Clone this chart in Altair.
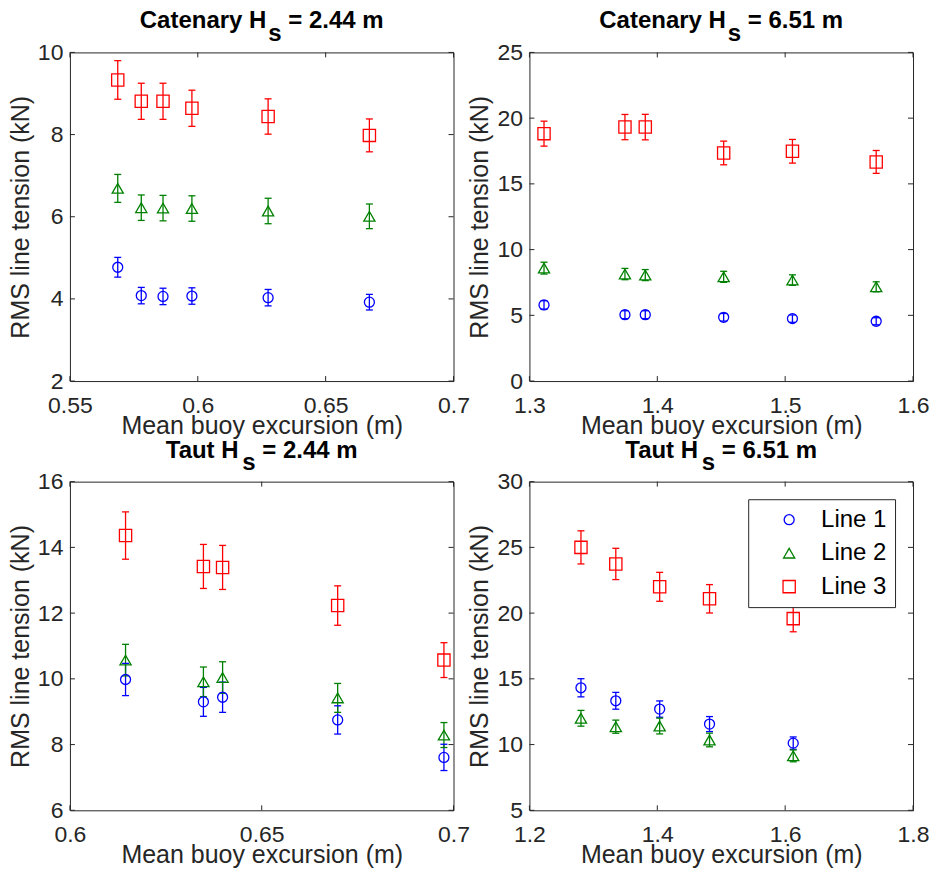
import altair as alt
import pandas as pd

SERIES = ["Line 1", "Line 2", "Line 3"]
COLORS = ["#0000ff", "#008000", "#ff0000"]
SHAPES = ["circle", "triangle-up", "square"]
SIZES = [100, 150, 110]

# ---- Catenary Hs = 2.44 m ----
cat244_x = [0.5687, 0.5779, 0.5864, 0.5977, 0.6275, 0.6671]
cat244_l1 = [4.77, 4.08, 4.06, 4.07, 4.03, 3.92]
cat244_e1 = [0.24, 0.20, 0.20, 0.20, 0.20, 0.19]
cat244_l2 = [6.69, 6.22, 6.21, 6.20, 6.14, 6.01]
cat244_e2 = [0.34, 0.31, 0.31, 0.31, 0.31, 0.30]
cat244_l3 = [9.33, 8.81, 8.81, 8.64, 8.44, 7.98]
cat244_e3 = [0.47, 0.44, 0.44, 0.44, 0.43, 0.40]

# ---- Catenary Hs = 6.51 m ----
cat651_x = [1.3114, 1.3747, 1.3906, 1.4519, 1.5057, 1.5712]
cat651_l1 = [5.79, 5.05, 5.05, 4.85, 4.75, 4.55]
cat651_e1 = [0.32, 0.30, 0.30, 0.29, 0.28, 0.27]
cat651_l2 = [8.59, 8.14, 8.06, 7.93, 7.68, 7.17]
cat651_e2 = [0.45, 0.43, 0.42, 0.42, 0.40, 0.38]
cat651_l3 = [18.82, 19.32, 19.32, 17.35, 17.48, 16.67]
cat651_e3 = [0.95, 0.96, 0.97, 0.90, 0.90, 0.87]

# ---- Taut Hs = 2.44 m ----
taut244_x = [0.6145, 0.6348, 0.6398, 0.6698, 0.6975]
taut244_l1 = [9.98, 9.30, 9.44, 8.75, 7.61]
taut244_e1 = [0.49, 0.44, 0.46, 0.43, 0.40]
taut244_l2 = [10.57, 9.91, 10.04, 9.42, 8.29]
taut244_e2 = [0.48, 0.45, 0.48, 0.44, 0.38]
taut244_l3 = [14.36, 13.42, 13.39, 12.23, 10.57]
taut244_e3 = [0.72, 0.67, 0.67, 0.60, 0.53]

# ---- Taut Hs = 6.51 m ----
taut651_x = [1.2806, 1.3351, 1.4037, 1.4817, 1.6126]
taut651_l1 = [14.32, 13.33, 12.70, 11.56, 10.11]
taut651_e1 = [0.69, 0.64, 0.62, 0.57, 0.47]
taut651_l2 = [12.00, 11.36, 11.41, 10.35, 9.14]
taut651_e2 = [0.60, 0.50, 0.60, 0.52, 0.45]
taut651_l3 = [25.00, 23.74, 22.00, 21.09, 19.58]
taut651_e3 = [1.26, 1.19, 1.10, 1.08, 1.00]

# axis ticks
cat244_xticks = [0.55, 0.6, 0.65, 0.7]
cat244_yticks = [2, 4, 6, 8, 10]
cat651_xticks = [1.3, 1.4, 1.5, 1.6]
cat651_yticks = [0, 5, 10, 15, 20, 25]
taut244_xticks = [0.6, 0.65, 0.7]
taut244_yticks = [6, 8, 10, 12, 14, 16]
taut651_xticks = [1.2, 1.4, 1.6, 1.8]
taut651_yticks = [5, 10, 15, 20, 25, 30]

FONT = "Liberation Sans"
AXIS_COLOR = "#262626"
W, H = 384, 329
TITLE_SIZE = 24

# Arial/Helvetica bold advance widths (per 1000 em) for title layout
BOLD_W = {" ": 278, ".": 278, "=": 584, "0": 556, "1": 556, "2": 556, "3": 556,
          "4": 556, "5": 556, "6": 556, "7": 556, "8": 556, "9": 556,
          "C": 722, "H": 722, "T": 611, "a": 556, "e": 556, "m": 889,
          "n": 611, "r": 389, "s": 556, "t": 333, "u": 611, "y": 556}


def tw(s):
    return sum(BOLD_W[c] for c in s) * TITLE_SIZE / 1000.0


def make_df(x, ys, es):
    rows = []
    for name, yv, ev in zip(SERIES, ys, es):
        for xi, yi, ei in zip(x, yv, ev):
            rows.append({"x": xi, "y": yi, "err": ei, "series": name})
    return pd.DataFrame(rows)


def panel(df, xdom, xticks, ydom, yticks, t_main, t_rest, legend=None):
    xs = alt.Scale(domain=xdom, nice=False, zero=False)
    ysc = alt.Scale(domain=ydom, nice=False, zero=False)
    xaxis = alt.Axis(values=xticks, ticks=False, domain=False, grid=False,
                     labelFlush=False, labelOverlap=False, labelPadding=13,
                     titlePadding=-4,
                     labelExpr="format(datum.value, '~g')",
                     title="Mean buoy excursion (m)")
    yaxis = alt.Axis(values=yticks, ticks=False, domain=False, grid=False,
                     labelFlush=False, labelOverlap=False, labelPadding=7,
                     titlePadding=4,
                     labelExpr="format(datum.value, '~g')",
                     title="RMS line tension (kN)")
    col = alt.Color("series:N", scale=alt.Scale(domain=SERIES, range=COLORS), legend=legend)
    shp = alt.Shape("series:N", scale=alt.Scale(domain=SERIES, range=SHAPES), legend=legend)

    base = alt.Chart(df).transform_calculate(lo="datum.y - datum.err",
                                             hi="datum.y + datum.err")
    X = alt.X("x:Q", scale=xs, axis=xaxis)
    bars = base.mark_rule(strokeWidth=1.3).encode(
        x=X, y=alt.Y("lo:Q", scale=ysc, axis=yaxis), y2="hi:Q", color=col)
    cap_lo = base.mark_rule(strokeWidth=1.3, xOffset=-3.5, x2Offset=3.5).encode(
        x=X, x2="x:Q", y=alt.Y("lo:Q", scale=ysc, axis=yaxis), color=col)
    cap_hi = base.mark_rule(strokeWidth=1.3, xOffset=-3.5, x2Offset=3.5).encode(
        x=X, x2="x:Q", y=alt.Y("hi:Q", scale=ysc, axis=yaxis), color=col)
    pts = base.mark_point(filled=False, strokeWidth=1.3, opacity=1).encode(
        x=X, y=alt.Y("y:Q", scale=ysc, axis=yaxis), color=col, shape=shp,
        size=alt.Size("series:N", scale=alt.Scale(domain=SERIES, range=SIZES), legend=None))

    xt = alt.Chart(pd.DataFrame({"v": xticks}))
    yt = alt.Chart(pd.DataFrame({"v": yticks}))
    XT = alt.X("v:Q", scale=xs, axis=xaxis)
    YT = alt.Y("v:Q", scale=ysc, axis=yaxis)
    tick_b = xt.mark_rule(color=AXIS_COLOR, strokeWidth=1).encode(x=XT, y=alt.value(H), y2=alt.value(H - 5))
    tick_t = xt.mark_rule(color=AXIS_COLOR, strokeWidth=1).encode(x=XT, y=alt.value(0), y2=alt.value(5))
    tick_l = yt.mark_rule(color=AXIS_COLOR, strokeWidth=1).encode(y=YT, x=alt.value(0), x2=alt.value(5))
    tick_r = yt.mark_rule(color=AXIS_COLOR, strokeWidth=1).encode(y=YT, x=alt.value(W), x2=alt.value(W - 5))

    gap = 2
    total = tw(t_main) + gap + tw("s") + tw(" " + t_rest)
    x0 = W / 2 - total / 2
    xs_sub = x0 + tw(t_main) + gap
    x_rest = xs_sub + tw("s") + tw(" ")
    tprops = dict(align="left", baseline="alphabetic", font=FONT, fontSize=TITLE_SIZE,
                  fontWeight="bold", color="black")
    t1 = alt.Chart(pd.DataFrame({"t": [t_main]})).mark_text(**tprops).encode(
        text="t:N", x=alt.value(x0), y=alt.value(-24))
    t2 = alt.Chart(pd.DataFrame({"t": ["s"]})).mark_text(**tprops).encode(
        text="t:N", x=alt.value(xs_sub), y=alt.value(-11.5))
    t3 = alt.Chart(pd.DataFrame({"t": [t_rest]})).mark_text(**tprops).encode(
        text="t:N", x=alt.value(x_rest), y=alt.value(-24))

    return alt.layer(tick_b, tick_t, tick_l, tick_r, bars, cap_lo, cap_hi, pts,
                     t1, t2, t3).properties(width=W, height=H)


legend = alt.Legend(orient="none", legendX=219, legendY=17.6, title=None,
                    strokeColor=AXIS_COLOR, fillColor="white", padding=8.5,
                    labelFont=FONT, labelFontSize=24, labelColor="black",
                    symbolSize=90, symbolStrokeWidth=1.3, symbolOffset=20.5,
                    labelOffset=20, rowPadding=9.5)

p1 = panel(make_df(cat244_x, [cat244_l1, cat244_l2, cat244_l3], [cat244_e1, cat244_e2, cat244_e3]),
           [0.55, 0.7], cat244_xticks, [2, 10], cat244_yticks, "Catenary H", "= 2.44 m")
p2 = panel(make_df(cat651_x, [cat651_l1, cat651_l2, cat651_l3], [cat651_e1, cat651_e2, cat651_e3]),
           [1.3, 1.6], cat651_xticks, [0, 25], cat651_yticks, "Catenary H", "= 6.51 m")
p3 = panel(make_df(taut244_x, [taut244_l1, taut244_l2, taut244_l3], [taut244_e1, taut244_e2, taut244_e3]),
           [0.6, 0.7], taut244_xticks, [6, 16], taut244_yticks, "Taut H", "= 2.44 m")
p4 = panel(make_df(taut651_x, [taut651_l1, taut651_l2, taut651_l3], [taut651_e1, taut651_e2, taut651_e3]),
           [1.2, 1.8], taut651_xticks, [5, 30], taut651_yticks, "Taut H", "= 6.51 m", legend=legend)

chart = alt.concat(
    p1, p2, p3, p4, columns=2,
    spacing=alt.RowColnumber(row=100.7, column=76), bounds="flush"
).resolve_scale(
    color="independent", shape="independent", size="independent"
).configure_view(
    stroke=AXIS_COLOR, strokeWidth=1
).configure_axis(
    labelFont=FONT, labelFontSize=23, labelColor=AXIS_COLOR,
    titleFont=FONT, titleFontSize=25, titleColor=AXIS_COLOR, titleFontWeight="normal"
).properties(
    background="white", padding={"left": 7, "top": 8, "right": 5, "bottom": 5}
)

chart.save("out.html", embed_options={"renderer": "svg", "actions": False})
